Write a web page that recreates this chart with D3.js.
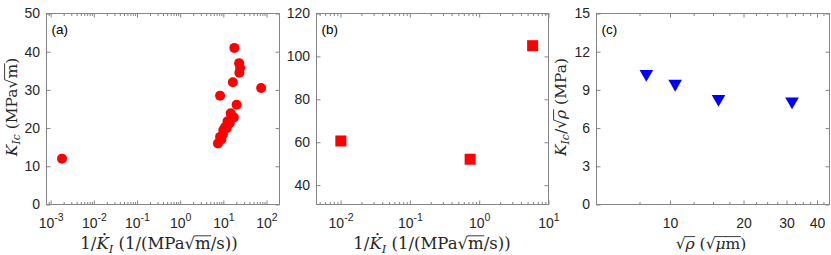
<!DOCTYPE html>
<html><head><meta charset="utf-8">
<script src="https://cdn.jsdelivr.net/npm/d3@7"></script>
<style>body{margin:0;background:#fff}svg{display:block}</style></head>
<body><svg id="c" width="831" height="255"></svg>
<script>
// ---- data ----
const aX = [0.00183, 18, 23.2, 24.5, 23.5, 16.6, 75, 8.4, 20.3, 17.5, 14.8, 15.5, 12.5, 14, 11, 12, 10, 9.8, 8.4, 9, 7.5];
const aY = [12, 41, 37, 35.8, 34.5, 32, 30.5, 28.5, 26.1, 22.8, 23.9, 23.3, 21.8, 21.3, 20.3, 20, 19.5, 18.4, 17.7, 17, 16];
const bX = [0.0101, 0.74, 5.9];
const bY = [60.6, 52.1, 105];
const cX = [8.0, 10.5, 15.8, 31.6];
const cY = [10.26, 9.48, 8.3, 8.09];
const aXTicks = [1e-3, 1e-2, 1e-1, 1e0, 1e1, 1e2];
const aXExp = ["-3", "-2", "-1", "0", "1", "2"];
const aYTicks = [0, 10, 20, 30, 40, 50];
const bXTicks = [1e-2, 1e-1, 1e0, 1e1];
const bXExp = ["-2", "-1", "0", "1"];
const bYTicks = [40, 60, 80, 100, 120];
const cXTicks = [10, 20, 30, 40];
const cYTicks = [0, 3, 6, 9, 12, 15];
const panelLabels = ["(a)", "(b)", "(c)"];

// ---- drawing ----
const svg = d3.select('#c');
const SANS = '"Liberation Sans", Arial, Helvetica, sans-serif';
const SERIF = '"DejaVu Serif", "Liberation Serif", serif';
const AX = '#858585', TXT = '#262626';
const TOP = 13.5, BOT = 204.5;

function logMinor(domain) {
  const out = [];
  const e0 = Math.floor(Math.log10(domain[0])), e1 = Math.ceil(Math.log10(domain[1]));
  for (let e = e0; e <= e1; e++) for (let m = 2; m <= 9; m++) {
    const v = m * Math.pow(10, e);
    if (v > domain[0] && v < domain[1]) out.push(v);
  }
  return out;
}

function panel(opt) {
  const g = svg.append('g');
  const x = opt.x, y = opt.y;
  const [x0, x1] = x.range(), [y0, y1] = y.range();
  g.append('rect').attr('x', x0).attr('y', y1).attr('width', x1 - x0).attr('height', y0 - y1)
    .attr('fill', 'none').attr('stroke', AX).attr('stroke-width', 1);
  const style = sel => { sel.select('.domain').remove(); sel.selectAll('line').attr('stroke', AX); };
  const bx = g.append('g').attr('transform', `translate(0,${y0})`)
    .call(d3.axisBottom(x).tickValues(opt.xMajor).tickSize(-4).tickPadding(10).tickFormat(opt.xFmt));
  style(bx);
  bx.selectAll('text').attr('font-family', SANS).attr('font-size', 14).attr('fill', TXT).attr('dy', null).attr('y', 23.5)
    .each(function(d, i) {
      if (opt.xExp) {
        const t = d3.select(this); t.text(null);
        t.append('tspan').text('10');
        t.append('tspan').attr('font-size', 10.5).attr('dy', -7).text(opt.xExp[i]);
      }
    });
  g.append('g').attr('transform', `translate(0,${y1})`).call(d3.axisTop(x).tickValues(opt.xMajor).tickSize(-4).tickFormat('')).call(style);
  if (opt.xMinor.length) {
    g.append('g').attr('transform', `translate(0,${y0})`).call(d3.axisBottom(x).tickValues(opt.xMinor).tickSize(-2.5).tickFormat('')).call(style);
    g.append('g').attr('transform', `translate(0,${y1})`).call(d3.axisTop(x).tickValues(opt.xMinor).tickSize(-2.5).tickFormat('')).call(style);
  }
  const ly = g.append('g').attr('transform', `translate(${x0},0)`)
    .call(d3.axisLeft(y).tickValues(opt.yMajor).tickSize(-4).tickPadding(6).tickFormat(d3.format('d')));
  style(ly);
  ly.selectAll('text').attr('font-family', SANS).attr('font-size', 14).attr('fill', TXT).attr('x', -6.5);
  g.append('g').attr('transform', `translate(${x1},0)`).call(d3.axisRight(y).tickValues(opt.yMajor).tickSize(-4).tickFormat('')).call(style);
  g.append('text').attr('x', x0 + 5).attr('y', y1 + 20).attr('font-family', SANS).attr('font-size', 13.5)
    .attr('fill', '#000').text(opt.label);
  return g;
}

// math label helper: parts = [{t, it, sub, over, dot}]
function mathText(parent, parts, fs) {
  const t = parent.append('text').attr('font-family', SERIF).attr('font-size', fs).attr('fill', TXT);
  let idx = 0; const overs = [], dots = [];
  let shifted = false;
  parts.forEach(p => {
    const s = t.append('tspan').text(p.t);
    if (p.it) s.attr('font-style', 'italic');
    if (p.sub) { s.attr('font-size', fs * 0.7).attr('dy', shifted ? null : fs * 0.22); shifted = true; }
    else if (shifted) { s.attr('dy', -fs * 0.22); shifted = false; }
    if (p.over) overs.push([idx, idx + p.t.length - 1]);
    if (p.dot) dots.push(idx);
    idx += p.t.length;
  });
  return { t, overs, dots };
}
function finishMarks(parent, m, fs) {
  const node = m.t.node();
  m.overs.forEach(([a, b]) => {
    const s = node.getStartPositionOfChar(a), e = node.getEndPositionOfChar(b);
    parent.append('line').attr('x1', s.x - 0.5).attr('x2', e.x + 0.5)
      .attr('y1', s.y - fs * 0.8).attr('y2', s.y - fs * 0.8)
      .attr('stroke', TXT).attr('stroke-width', 0.9);
  });
  m.dots.forEach(a => {
    const s = node.getStartPositionOfChar(a), e = node.getEndPositionOfChar(a);
    parent.append('circle').attr('cx', (s.x + e.x) / 2 + fs * 0.12).attr('cy', s.y - fs * 0.9)
      .attr('r', fs * 0.07).attr('fill', TXT);
  });
}
function placeLabel(parts, fs, cx, cy, rotate) {
  const g = svg.append('g');
  const m = mathText(g, parts, fs);
  m.t.attr('text-anchor', 'middle');
  finishMarks(g, m, fs);
  g.attr('transform', rotate ? `translate(${cx},${cy}) rotate(-90)` : `translate(${cx},${cy})`);
}

// Panel (a)
const xa = d3.scaleLog().domain([8e-4, 200]).range([46.5, 279.5]);
const ya = d3.scaleLinear().domain([0, 50]).range([BOT, TOP]);
const ga = panel({ x: xa, y: ya, xMajor: aXTicks, xMinor: logMinor(xa.domain()), xExp: aXExp,
  xFmt: () => '', yMajor: aYTicks, label: panelLabels[0] });
ga.append('g').selectAll('circle').data(aX.map((v, i) => [v, aY[i]])).join('circle')
  .attr('cx', d => xa(d[0])).attr('cy', d => ya(d[1])).attr('r', 5).attr('fill', '#ff0000');

// Panel (b)
const xb = d3.scaleLog().domain([0.0045, 10]).range([316.5, 548.5]);
const yb = d3.scaleLinear().domain([31, 120]).range([BOT, TOP]);
const gb = panel({ x: xb, y: yb, xMajor: bXTicks, xMinor: logMinor(xb.domain()), xExp: bXExp,
  xFmt: () => '', yMajor: bYTicks, label: panelLabels[1] });
gb.append('g').selectAll('rect').data(bX.map((v, i) => [v, bY[i]])).join('rect')
  .attr('x', d => xb(d[0]) - 5.5).attr('y', d => yb(d[1]) - 5.5).attr('width', 11).attr('height', 11).attr('fill', '#ff0000');

// Panel (c)
const xc = d3.scaleLog().domain([5, 45]).range([596.5, 829.5]);
const yc = d3.scaleLinear().domain([0, 15]).range([BOT, TOP]);
const cMinor = d3.range(5, 45.01, 2.5).filter(v => !cXTicks.includes(v) && v > 5 && v < 45);
const gc = panel({ x: xc, y: yc, xMajor: cXTicks, xMinor: cMinor, xExp: null,
  xFmt: d => d3.format('d')(d), yMajor: cYTicks, label: panelLabels[2] });
const tri = d3.symbol().type(d3.symbolTriangle).size(80);
gc.append('g').selectAll('path').data(cX.map((v, i) => [v, cY[i]])).join('path')
  .attr('d', tri).attr('transform', d => `translate(${xc(d[0])},${yc(d[1])}) rotate(180)`).attr('fill', '#0000ff');

// Axis titles
const xTitle = [{ t: '1/' }, { t: 'K', it: true, dot: true }, { t: 'I', it: true, sub: true }, { t: ' (1/(MPa\u221A' }, { t: 'm', over: true }, { t: '/s))' }];
placeLabel(xTitle, 16.5, 159, 249, false);
placeLabel(xTitle, 16.5, 432, 249, false);
placeLabel([{ t: '\u221A' }, { t: '\u03C1', it: true, over: true }, { t: ' (\u221A' }, { t: '\u03BC', it: true, over: true }, { t: 'm', over: true }, { t: ')' }], 15.5, 711, 249, false);
placeLabel([{ t: 'K', it: true }, { t: 'Ic', it: true, sub: true }, { t: ' (MPa\u221A' }, { t: 'm', over: true }, { t: ')' }], 15.5, 17, 107, true);
placeLabel([{ t: 'K', it: true }, { t: 'Ic', it: true, sub: true }, { t: '/\u221A' }, { t: '\u03C1', it: true, over: true }, { t: ' (MPa)' }], 15.5, 566, 107, true);
</script></body></html>
